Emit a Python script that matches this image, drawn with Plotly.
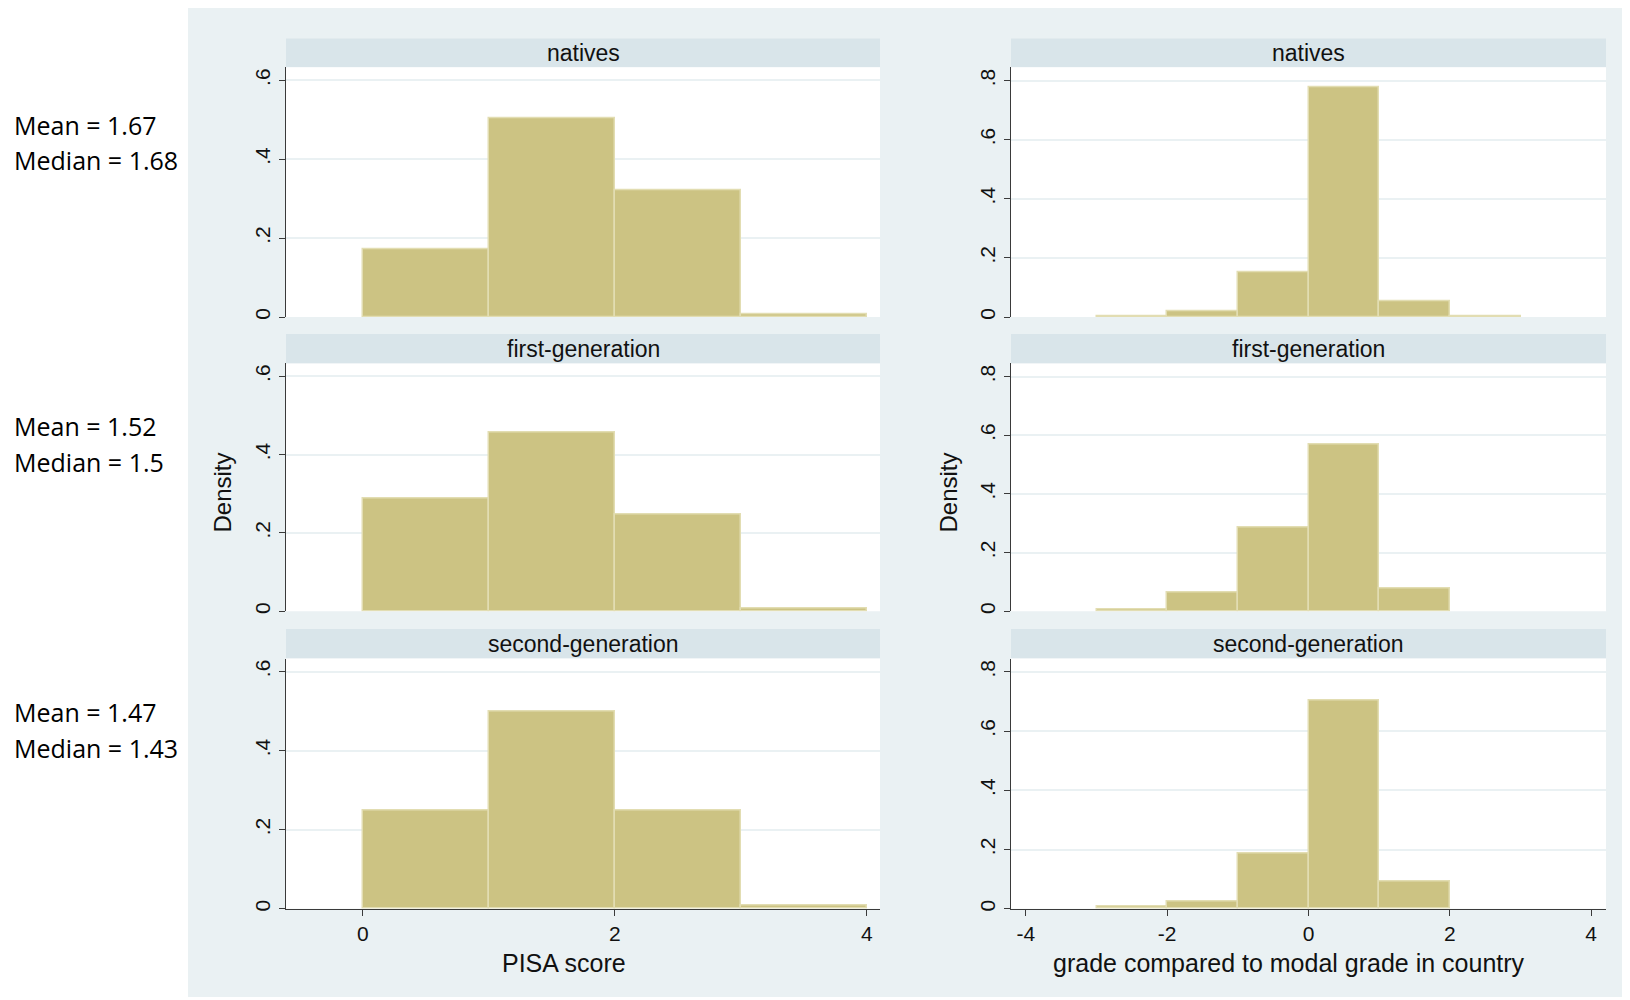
import plotly.graph_objects as go

# ---------------- data ----------------
groups = ["natives", "first-generation", "second-generation"]
mean_vals = ["1.67", "1.52", "1.47"]
median_vals = ["1.68", "1.5", "1.43"]

pisa_bin_left = [0, 1, 2, 3]
pisa_density = {
    "natives": [0.172, 0.503, 0.322, 0.008],
    "first-generation": [0.287, 0.457, 0.247, 0.007],
    "second-generation": [0.249, 0.499, 0.249, 0.007],
}

grade_bin_left = [-3, -2, -1, 0, 1, 2]
grade_density = {
    "natives": [0.004, 0.021, 0.153, 0.776, 0.052, 0.004],
    "first-generation": [0.007, 0.063, 0.284, 0.568, 0.077, None],
    "second-generation": [0.006, 0.023, 0.185, 0.703, 0.093, None],
}

pisa_xticks = [0, 2, 4]
grade_xticks = [-4, -2, 0, 2, 4]
pisa_yticks = [0, 0.2, 0.4, 0.6]
pisa_yticklabels = ["0", ".2", ".4", ".6"]
grade_yticks = [0, 0.2, 0.4, 0.6, 0.8]
grade_yticklabels = ["0", ".2", ".4", ".6", ".8"]

left_title = "PISA score"
right_title = "grade compared to modal grade in country"
y_title = "Density"

# ---------------- style ----------------
OFF = 8                      # page body margin
W, H = 1630 - OFF, 1000 - OFF
PANEL = "#EAF1F3"
STRIP = "#D9E5EA"
BAR = "#CCC383"
BAR_EDGE = "#E2DDB2"
GRID = "#EAF1F3"
AXIS = "#3A3A3A"
FONT = "Liberation Sans, Arial, sans-serif"

col_x = [(286, 880), (1011, 1606)]          # pixel extents of plot areas (page coords)
rows_px = [(67.5, 318), (364.5, 613), (660.5, 911.5)]   # plot area top/bottom
strips_px = [(38.5, 67.5), (335, 364.5), (631, 660.5)]

def fx(px):
    return (px - OFF) / W

def fy(py):
    return 1 - (py - OFF) / H

fig = go.Figure()

shapes = [dict(type="rect", xref="paper", yref="paper",
               x0=fx(188), x1=1, y0=0, y1=1,
               fillcolor=PANEL, line=dict(width=0), layer="below")]
annotations = []

layout_axes = {}
n = 0
for r, g in enumerate(groups):
    for c in range(2):
        n += 1
        xa = "xaxis" if n == 1 else f"xaxis{n}"
        ya = "yaxis" if n == 1 else f"yaxis{n}"
        xr = "x" if n == 1 else f"x{n}"
        yr = "y" if n == 1 else f"y{n}"
        x0, x1 = col_x[c]
        t, b = rows_px[r]
        if c == 0:
            lefts, dens = pisa_bin_left, pisa_density[g]
            xrange = [-0.61, 4.105]
            yrange = [0, 0.633]
            xt, ytv, ytt = pisa_xticks, pisa_yticks, pisa_yticklabels
        else:
            lefts, dens = grade_bin_left, grade_density[g]
            xrange = [-4.21, 4.21]
            yrange = [0, 0.845]
            xt, ytv, ytt = grade_xticks, grade_yticks, grade_yticklabels
        centers = [v + 0.5 for v in lefts]
        fig.add_trace(go.Bar(
            x=centers, y=dens, width=[1] * len(centers),
            marker=dict(color=BAR, line=dict(color=BAR_EDGE, width=1.5)),
            xaxis=xr, yaxis=yr, showlegend=False, hoverinfo="x+y",
        ))
        bottom = (r == len(groups) - 1)
        layout_axes[xa] = dict(
            domain=[fx(x0), fx(x1)], range=xrange, anchor=yr,
            showgrid=False, zeroline=False,
            showline=bottom, linecolor=AXIS, linewidth=1.3,
            ticks="outside" if bottom else "", ticklen=6, tickcolor=AXIS, tickwidth=1.3,
            tickvals=xt, ticktext=[str(v) for v in xt],
            showticklabels=bottom,
            tickfont=dict(family=FONT, size=21, color="#111111"),
            fixedrange=True,
        )
        layout_axes[ya] = dict(
            domain=[fy(b), fy(t)], range=yrange, anchor=xr,
            showgrid=True, gridcolor=GRID, gridwidth=2,
            zeroline=False, showline=True, linecolor=AXIS, linewidth=1.3,
            ticks="outside", ticklen=6, tickcolor=AXIS, tickwidth=1.3,
            tickvals=ytv, ticktext=ytt, tickangle=-90,
            tickfont=dict(family=FONT, size=21, color="#111111"),
            fixedrange=True,
        )
        # strip
        s0, s1 = strips_px[r]
        shapes.append(dict(type="rect", xref="paper", yref="paper",
                           x0=fx(x0), x1=fx(x1), y0=fy(s1), y1=fy(s0),
                           fillcolor=STRIP, line=dict(width=0), layer="below"))
        annotations.append(dict(
            xref="paper", yref="paper", x=fx((x0 + x1) / 2), y=fy((s0 + s1) / 2),
            text=g, showarrow=False, xanchor="center", yanchor="middle",
            font=dict(family=FONT, size=23, color="#111111")))
        # white plot area
        shapes.append(dict(type="rect", xref="paper", yref="paper",
                           x0=fx(x0), x1=fx(x1), y0=fy(b), y1=fy(s1),
                           fillcolor="white", line=dict(width=0), layer="below"))

# Density titles
for cx in (223, 949):
    annotations.append(dict(
        xref="paper", yref="paper", x=fx(cx), y=fy(494), text=y_title,
        textangle=-90, showarrow=False, xanchor="center", yanchor="middle",
        font=dict(family=FONT, size=24, color="#111111")))

# x titles
annotations.append(dict(xref="paper", yref="paper", x=fx(564), y=fy(966),
                        text=left_title, showarrow=False, xanchor="center", yanchor="middle",
                        font=dict(family=FONT, size=25, color="#111111")))
annotations.append(dict(xref="paper", yref="paper", x=fx(1289), y=fy(966),
                        text=right_title, showarrow=False, xanchor="center", yanchor="middle",
                        font=dict(family=FONT, size=25, color="#111111")))

# Mean / median side notes
note_y = [(125, 160), (427, 463), (714, 750)]
for (ym, yd), mv, md in zip(note_y, mean_vals, median_vals):
    annotations.append(dict(xref="paper", yref="paper", x=fx(12), y=fy(ym),
                            text=f"Mean = {mv}", showarrow=False, xanchor="left", yanchor="middle",
                            font=dict(family="Open Sans", size=25, color="#000000")))
    annotations.append(dict(xref="paper", yref="paper", x=fx(12), y=fy(yd),
                            text=f"Median = {md}", showarrow=False, xanchor="left", yanchor="middle",
                            font=dict(family="Open Sans", size=25, color="#000000")))

fig.update_layout(
    width=W, height=H, margin=dict(l=0, r=0, t=0, b=0),
    paper_bgcolor="white", plot_bgcolor="rgba(0,0,0,0)",
    bargap=0, shapes=shapes, annotations=annotations,
    **layout_axes,
)

fig.write_html("out.html")
